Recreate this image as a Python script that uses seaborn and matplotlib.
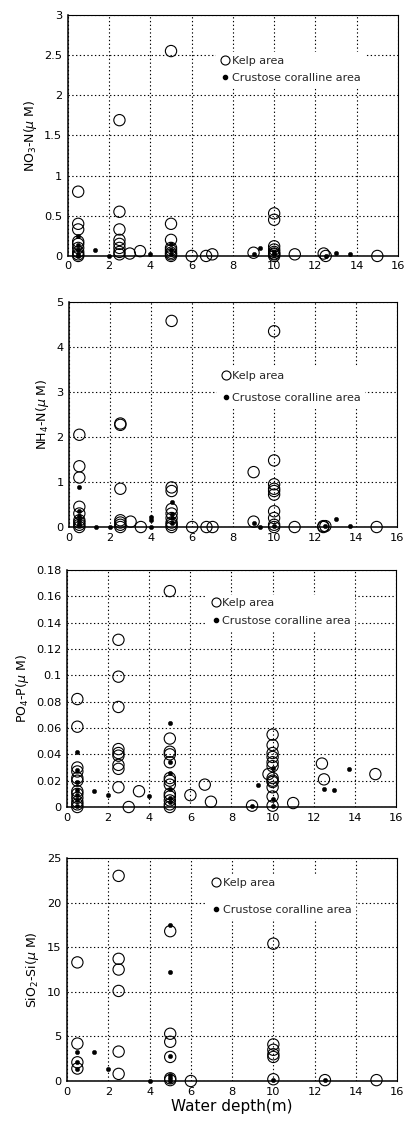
import numpy as np
import pandas as pd
import matplotlib
matplotlib.use("Agg")
import matplotlib.pyplot as plt
from matplotlib.lines import Line2D
from matplotlib.ticker import FuncFormatter
import seaborn as sns

sns.set_theme(style="white")
plt.rcParams['font.family'] = ['DejaVu Sans']

# ---------------- data ----------------
# NO3-N
no3_kelp_x = [0.5]*9 + [2.5]*8 + [3.0, 3.5] + [5]*8 + [6, 6.7, 7, 9] + [10]*8 + [11, 12.4, 12.5, 15]
no3_kelp_y = [0.8, 0.4, 0.33, 0.18, 0.15, 0.1, 0.05, 0.02, 0.0,
              1.69, 0.55, 0.33, 0.2, 0.15, 0.1, 0.05, 0.02,
              0.03, 0.06,
              2.55, 0.4, 0.2, 0.1, 0.07, 0.04, 0.02, 0.0,
              0.0, 0.0, 0.02, 0.04,
              0.53, 0.45, 0.12, 0.08, 0.05, 0.03, 0.02, 0.0,
              0.02, 0.03, 0.0, 0.0]
no3_cc_x = [0.5]*5 + [1.3, 2.0, 4.0] + [5]*3 + [9.0, 9.3, 10, 10, 12.5, 13, 13.7]
no3_cc_y = [0.25, 0.13, 0.08, 0.03, 0.0,
            0.08, 0.0, 0.02,
            0.15, 0.07, 0.03,
            0.02, 0.1, 0.02, 0.05, 0.0, 0.04, 0.02]

# NH4-N
nh4_kelp_x = [0.5]*9 + [2.5]*7 + [3.0, 3.5] + [5]*9 + [6, 6.7, 7] + [9, 9] + [10]*10 + [11, 12.4, 12.4, 12.5, 15]
nh4_kelp_y = [2.05, 1.35, 1.1, 0.45, 0.3, 0.15, 0.1, 0.05, 0.0,
              2.3, 2.27, 0.85, 0.15, 0.1, 0.05, 0.0,
              0.12, 0.0,
              4.58, 0.88, 0.8, 0.4, 0.3, 0.2, 0.1, 0.05, 0.0,
              0.0, 0.0, 0.0,
              1.22, 0.12,
              4.35, 1.48, 0.95, 0.85, 0.8, 0.72, 0.35, 0.2, 0.05, 0.0,
              0.0, 0.02, 0.0, 0.02, 0.0]
nh4_cc_x = [0.5]*6 + [1.3, 2.0] + [4.0]*3 + [5]*4 + [9.0, 9.3, 10, 12.5, 13, 13.7]
nh4_cc_y = [0.9, 0.35, 0.25, 0.15, 0.1, 0.05,
            0.0, 0.0,
            0.22, 0.15, 0.0,
            0.55, 0.3, 0.2, 0.1,
            0.1, 0.0, 0.03, 0.02, 0.18, 0.02]

# PO4-P
po4_kelp_x = [0.5]*12 + [2.5]*9 + [3.0, 3.5] + [5]*13 + [6, 6.7, 7, 9, 9.8] + [10]*12 + [11, 12.4, 12.5, 15]
po4_kelp_y = [0.082, 0.061, 0.03, 0.027, 0.022, 0.02, 0.012, 0.01, 0.007, 0.004, 0.002, 0.0,
              0.127, 0.099, 0.076, 0.044, 0.041, 0.039, 0.032, 0.029, 0.015,
              0.0, 0.012,
              0.164, 0.052, 0.042, 0.04, 0.034, 0.022, 0.02, 0.017, 0.01, 0.008, 0.005, 0.002, 0.0,
              0.009, 0.017, 0.004, 0.001, 0.025,
              0.055, 0.047, 0.041, 0.038, 0.034, 0.031, 0.022, 0.02, 0.019, 0.015, 0.008, 0.001,
              0.003, 0.033, 0.021, 0.025]
po4_cc_x = [0.5]*7 + [1.3, 2.0, 4.0] + [5]*6 + [9.0, 9.3] + [10]*3 + [12.5, 13, 13.7]
po4_cc_y = [0.042, 0.028, 0.019, 0.013, 0.009, 0.005, 0.001,
            0.012, 0.009, 0.008,
            0.064, 0.034, 0.026, 0.014, 0.007, 0.004,
            0.001, 0.017,
            0.03, 0.006, 0.001,
            0.014, 0.013, 0.029]

# SiO2-Si
si_kelp_x = [0.5]*4 + [2.5]*6 + [5]*6 + [6] + [10]*6 + [12.5, 15]
si_kelp_y = [13.3, 4.2, 2.1, 1.4,
             23.0, 13.7, 12.5, 10.1, 3.3, 0.8,
             16.8, 5.3, 4.4, 2.7, 0.3, 0.1,
             0.0,
             15.4, 4.1, 3.5, 3.0, 2.7, 0.2,
             0.1, 0.1]
si_cc_x = [0.5]*3 + [1.3, 2.0, 4.0] + [5]*6 + [10, 12.5]
si_cc_y = [3.2, 2.1, 1.4,
           3.3, 1.3, 0.0,
           17.5, 12.2, 2.8, 0.7, 0.3, 0.0,
           0.1, 0.1]

labels = ["Kelp area", "Crustose coralline area"]
xticks = [0, 2, 4, 6, 8, 10, 12, 14, 16]

panels = [
    dict(kx=no3_kelp_x, ky=no3_kelp_y, cx=no3_cc_x, cy=no3_cc_y,
         ylabel=r"NO$_3$-N($\mu$ M)", yticks=[0, 0.5, 1, 1.5, 2, 2.5, 3]),
    dict(kx=nh4_kelp_x, ky=nh4_kelp_y, cx=nh4_cc_x, cy=nh4_cc_y,
         ylabel=r"NH$_4$-N($\mu$ M)", yticks=[0, 1, 2, 3, 4, 5]),
    dict(kx=po4_kelp_x, ky=po4_kelp_y, cx=po4_cc_x, cy=po4_cc_y,
         ylabel=r"PO$_4$-P($\mu$ M)", yticks=[0, 0.02, 0.04, 0.06, 0.08, 0.1, 0.12, 0.14, 0.16, 0.18]),
    dict(kx=si_kelp_x, ky=si_kelp_y, cx=si_cc_x, cy=si_cc_y,
         ylabel=r"SiO$_2$-Si($\mu$ M)", yticks=[0, 5, 10, 15, 20, 25]),
]

# layout (figure fractions)
rects = [
    [0.168, 0.7733, 0.817, 0.2135],
    [0.171, 0.5332, 0.812, 0.1993],
    [0.166, 0.2852, 0.814, 0.2099],
    [0.166, 0.0425, 0.817, 0.1975],
]
legend_pos = [(0.45, 0.845), (0.45, 0.71), (0.425, 0.895), (0.425, 0.925)]
legend_spacing = [0.7, 1.1, 0.7, 1.5]

fig = plt.figure(figsize=(4.04, 11.29), dpi=100)
fig.patch.set_facecolor("white")

for i, p in enumerate(panels):
    ax = fig.add_axes(rects[i])
    ax.set_facecolor("white")
    dk = pd.DataFrame({"depth": p["kx"], "value": p["ky"]})
    dc = pd.DataFrame({"depth": p["cx"], "value": p["cy"]})
    sns.scatterplot(data=dk, x="depth", y="value", ax=ax, s=66, marker="o",
                    facecolors="none", edgecolor="black", linewidth=0.8, zorder=3, clip_on=False)
    sns.scatterplot(data=dc, x="depth", y="value", ax=ax, s=10, marker="o",
                    color="black", edgecolor="black", linewidth=0.3, zorder=4, clip_on=False)
    ax.set_xlim(0, 16)
    ax.set_ylim(0, p["yticks"][-1])
    ax.set_xticks(xticks)
    ax.set_yticks(p["yticks"])
    ax.yaxis.set_major_formatter(FuncFormatter(lambda v, pos: "{:g}".format(round(v, 4))))
    ax.grid(True, color="black", linestyle=(0, (1.2, 2.2)), linewidth=0.8)
    ax.set_axisbelow(True)
    for s in ax.spines.values():
        s.set_visible(True)
        s.set_color("black")
        s.set_linewidth(0.8)
    ax.spines["left"].set_linewidth(1.1)
    ax.spines["bottom"].set_linewidth(1.1)
    ax.tick_params(axis="both", length=0, labelsize=8.2, colors="black", pad=4)
    ax.set_ylabel(p["ylabel"], fontsize=9, color="black", labelpad=4)
    ax.set_xlabel("Water depth(m)" if i == 3 else "", fontsize=11, color="black", labelpad=2)

    handles = [
        Line2D([], [], marker="o", linestyle="none", markersize=6.5,
               markerfacecolor="none", markeredgecolor="black", markeredgewidth=0.8),
        Line2D([], [], marker="o", linestyle="none", markersize=3,
               markerfacecolor="black", markeredgecolor="black"),
    ]
    leg = ax.legend(handles, labels, loc="upper left", bbox_to_anchor=legend_pos[i],
                    frameon=True, fontsize=8, handletextpad=0.1, handlelength=1.0,
                    labelspacing=legend_spacing[i], borderpad=0.3, borderaxespad=0)
    leg.get_frame().set_facecolor("white")
    leg.get_frame().set_edgecolor("white")
    leg.get_frame().set_alpha(1)
    leg.get_frame().set_boxstyle("square", pad=0)
    leg.set_zorder(5)

fig.savefig("out.png", dpi=100, facecolor="white")
